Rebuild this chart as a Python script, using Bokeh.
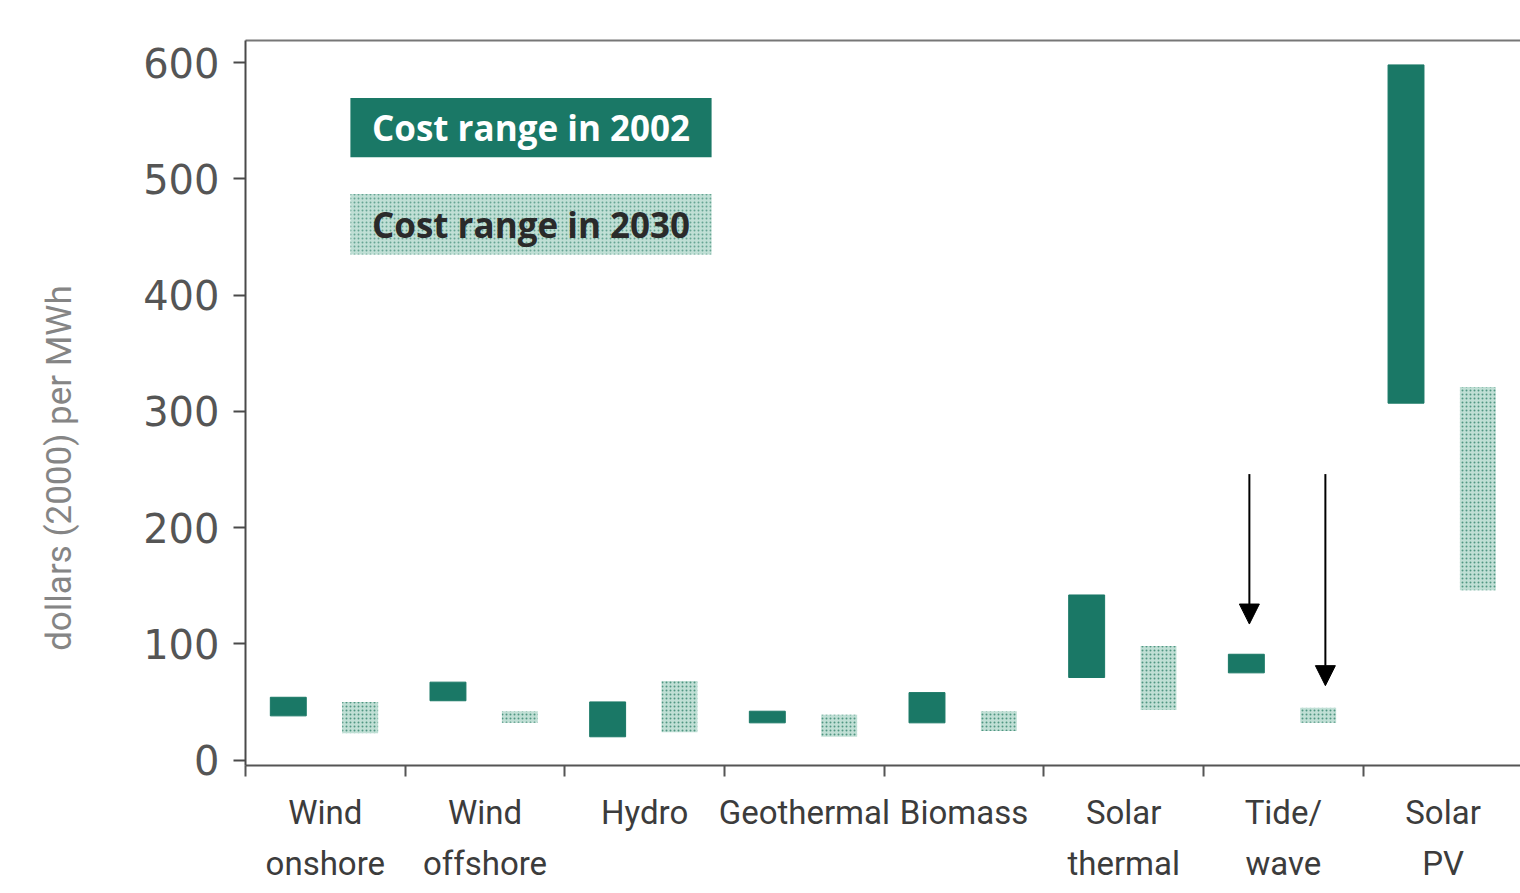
import numpy as np
from bokeh.plotting import figure
from bokeh.models import (ColumnDataSource, Range1d, LinearAxis, FixedTicker, Label,
                          BoxAnnotation, Arrow, NormalHead)
from bokeh.embed import file_html
from bokeh.resources import INLINE

# ---- data ----
categories = ["Wind\nonshore", "Wind\noffshore", "Hydro", "Geothermal", "Biomass",
              "Solar\nthermal", "Tide/\nwave", "Solar\nPV"]
low_2002 = [38, 51, 20, 32, 32, 71, 75, 307]
high_2002 = [54, 67, 50, 42, 58, 142, 91, 598]
low_2030 = [23, 32, 24, 20, 25, 43, 32, 146]
high_2030 = [50, 42, 68, 39, 42, 98, 45, 321]
y_ticks = [0, 100, 200, 300, 400, 500, 600]
legend_labels = ["Cost range in 2002", "Cost range in 2030"]
y_label = "dollars (2000) per MWh"
# arrows pointing at Tide/wave bars (value coordinates)
arrow_x = [6.287, 6.763]
arrow_top = [246, 246]
arrow_tip = [117, 64]

DARK = "#1a7866"
LIGHT = "#c0dfd5"
DOTS = "#4f9682"
LABEL_FONT = "Roboto"

n = len(categories)
idx = np.arange(n)
src02 = ColumnDataSource(dict(x=idx + 0.5 - 0.232, top=high_2002, bottom=low_2002))
src30 = ColumnDataSource(dict(x=idx + 0.5 + 0.218, top=high_2030, bottom=low_2030))

p = figure(width=1520, height=893, output_backend="svg", toolbar_location=None,
           x_range=Range1d(0, 7.985), y_range=Range1d(-4.7, 619),
           min_border_left=245, min_border_right=0, min_border_top=40,
           min_border_bottom=128, x_axis_type=None, y_axis_type=None)
p.grid.visible = False
p.outline_line_color = None
p.background_fill_color = "white"
p.border_fill_color = "white"

# y axis
yax = LinearAxis(ticker=FixedTicker(ticks=y_ticks))
yax.axis_line_color = "#4a4a4a"
yax.axis_line_width = 2
yax.major_tick_line_color = "#4a4a4a"
yax.major_tick_line_width = 2
yax.major_tick_out = 12
yax.major_tick_in = 0
yax.minor_tick_line_color = None
yax.major_label_standoff = 14
yax.major_label_text_font = "DejaVu Sans"
yax.major_label_text_font_size = "40px"
yax.major_label_text_color = "#555555"
yax.axis_label = y_label + "\u00a0" * 15
yax.axis_label_text_font = LABEL_FONT
yax.axis_label_text_font_size = "35px"
yax.axis_label_text_font_style = "normal"
yax.axis_label_text_color = "#858585"
yax.axis_label_standoff = 60
p.add_layout(yax, "left")

# x axis: labels centred in each category (major ticks, hidden marks),
# tick marks between categories (minor ticks)
centers = [float(c) for c in idx + 0.5]
xax = LinearAxis(ticker=FixedTicker(ticks=centers, minor_ticks=list(range(n + 1))),
                 major_label_overrides={c: lab for c, lab in zip(centers, categories)})
xax.axis_line_color = "#555555"
xax.axis_line_width = 2
xax.major_tick_line_color = None
xax.major_tick_out = 0
xax.major_tick_in = 0
xax.minor_tick_line_color = "#555555"
xax.minor_tick_line_width = 2
xax.minor_tick_out = 11
xax.minor_tick_in = 0
xax.major_label_standoff = 16
xax.major_label_text_font = LABEL_FONT
xax.major_label_text_font_size = "33px"
xax.major_label_text_color = "#3c3c3c"
xax.major_label_text_line_height = 1.33
p.add_layout(xax, "below")

# top frame line
tax = LinearAxis(ticker=FixedTicker(ticks=[]))
tax.axis_line_color = "#777777"
tax.axis_line_width = 2
tax.major_tick_line_color = None
tax.minor_tick_line_color = None
p.add_layout(tax, "above")

# bars
p.vbar(x="x", top="top", bottom="bottom", width=0.225, source=src02,
       fill_color=DARK, line_color=DARK)
p.vbar(x="x", top="top", bottom="bottom", width=0.225, source=src30,
       fill_color=LIGHT, line_color=None, hatch_pattern="dot",
       hatch_color=DOTS, hatch_scale=4, hatch_weight=2)

# legend boxes
p.add_layout(BoxAnnotation(left=0.657, right=2.919, top=569.5, bottom=518.5,
                           fill_color=DARK, fill_alpha=1, line_color=None))
p.add_layout(BoxAnnotation(left=0.657, right=2.919, top=487, bottom=435,
                           fill_color=LIGHT, fill_alpha=1, line_color=None,
                           hatch_pattern="dot", hatch_color=DOTS, hatch_scale=4,
                           hatch_weight=2, hatch_alpha=0.8))
p.add_layout(Label(x=1.788, y=544, text=legend_labels[0], text_align="center",
                   text_baseline="middle", text_font="Open Sans", text_font_style="bold",
                   text_font_size="35px", text_color="white"))
p.add_layout(Label(x=1.788, y=461, text=legend_labels[1], text_align="center",
                   text_baseline="middle", text_font="Open Sans", text_font_style="bold",
                   text_font_size="35px", text_color="#2a2a2a"))

# arrows
for ax_, at, tip in zip(arrow_x, arrow_top, arrow_tip):
    p.add_layout(Arrow(end=NormalHead(size=20, fill_color="black", line_color="black"),
                       x_start=ax_, y_start=at, x_end=ax_, y_end=tip,
                       line_color="black", line_width=2))

open("out.html", "w").write(file_html(p, INLINE))
